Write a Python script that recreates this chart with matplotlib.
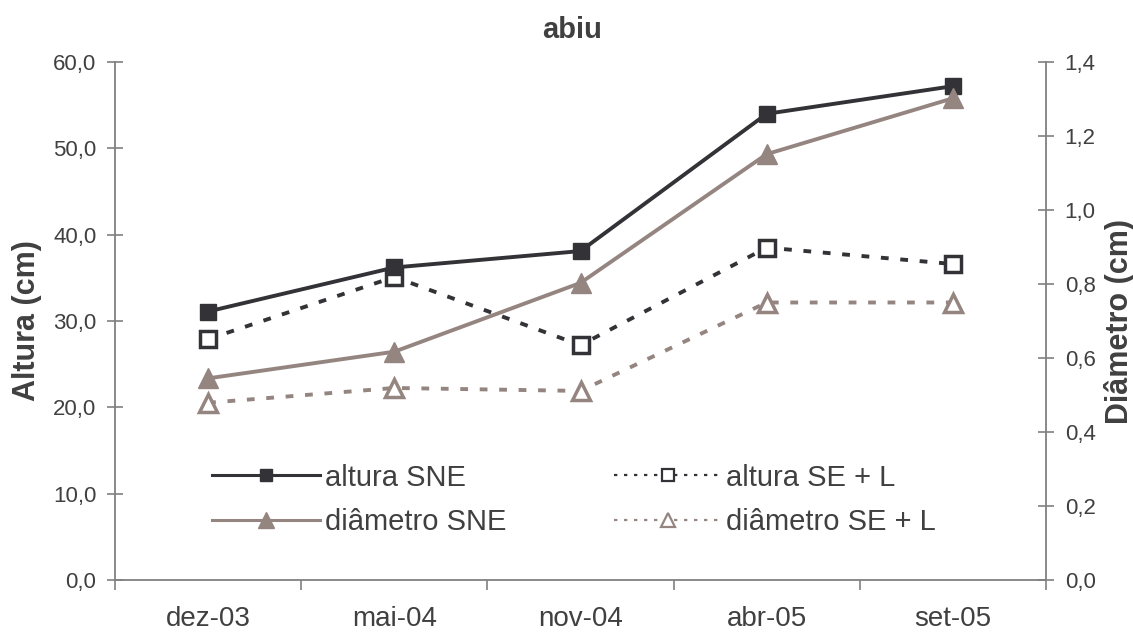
import matplotlib
matplotlib.use("Agg")
import matplotlib.pyplot as plt
from matplotlib.lines import Line2D
from matplotlib.ticker import FuncFormatter, MultipleLocator, FixedLocator

plt.rcParams['font.family'] = ['Liberation Sans', 'DejaVu Sans']

# Data
datas = ["dez-03", "mai-04", "nov-04", "abr-05", "set-05"]
altura_sne = [31.1, 36.2, 38.1, 54.0, 57.2]
altura_se_l = [27.9, 35.1, 27.2, 38.5, 36.6]
diametro_sne = [0.545, 0.617, 0.803, 1.151, 1.302]
diametro_se_l = [0.479, 0.519, 0.511, 0.750, 0.750]

DARK = "#333337"
BROWN = "#958580"
AXIS = "#808080"
TEXT = "#404040"

fig = plt.figure(figsize=(11.33, 6.36), dpi=100)
ax = fig.add_axes([115 / 1133, 1 - 580 / 636, (1046 - 115) / 1133, (580 - 62) / 636])
ax2 = ax.twinx()

x = list(range(len(datas)))

ax.plot(x, altura_sne, color=DARK, lw=2.8, marker="s", ms=12,
        mfc=DARK, mec=DARK, zorder=3)
ax.plot(x, altura_se_l, color=DARK, lw=2.8, ls=(0, (2.0, 3.0)), marker="s", ms=11,
        mfc="white", mec=DARK, mew=2.5, zorder=2)
ax2.plot(x, diametro_sne, color=BROWN, lw=2.8, marker="^", ms=14,
         mfc=BROWN, mec=BROWN, zorder=3)
ax2.plot(x, diametro_se_l, color=BROWN, lw=2.8, ls=(0, (2.0, 3.0)), marker="^", ms=13,
         mfc="white", mec=BROWN, mew=2.5, zorder=2)

# Axis ranges
ax.set_xlim(-0.5, len(datas) - 0.5)
ax.set_ylim(0, 60)
ax2.set_ylim(0, 1.4)

ax.yaxis.set_major_locator(MultipleLocator(10))
ax2.yaxis.set_major_locator(MultipleLocator(0.2))
ax.yaxis.set_major_formatter(FuncFormatter(lambda v, p: f"{v:.1f}".replace(".", ",")))
ax2.yaxis.set_major_formatter(FuncFormatter(lambda v, p: f"{v:.1f}".replace(".", ",")))

ax.set_xticks(x)
ax.set_xticklabels(datas)
ax.xaxis.set_minor_locator(FixedLocator([i - 0.5 for i in range(len(datas) + 1)]))
ax.tick_params(axis="x", which="major", length=0, pad=19, labelsize=20, labelcolor=TEXT)
ax.tick_params(axis="x", which="minor", length=7, width=1.2, color=AXIS, direction="out")
ax.tick_params(axis="y", length=11, width=1.2, color=AXIS, direction="inout",
               pad=8, labelsize=16, labelcolor=TEXT)
ax2.tick_params(axis="y", length=11, width=1.2, color=AXIS, direction="inout",
                pad=8, labelsize=16, labelcolor=TEXT)

for a in (ax, ax2):
    a.spines["top"].set_visible(False)
    for s in ("left", "right", "bottom"):
        a.spines[s].set_color(AXIS)
        a.spines[s].set_linewidth(1.3)
ax2.spines["left"].set_visible(False)
ax2.spines["bottom"].set_visible(False)
ax.spines["right"].set_visible(False)

ax.set_ylabel("Altura (cm)", fontsize=22, fontweight="bold", color=TEXT, labelpad=8)
ax2.set_ylabel("Diâmetro (cm)", fontsize=22, fontweight="bold", color=TEXT,
               rotation=90, labelpad=6)

fig.text(572 / 1133, 1 - 30 / 636, "abiu", ha="center", va="center",
         fontsize=21, fontweight="bold", color=TEXT)

# Legend (two columns)
handles = [
    Line2D([], [], color=DARK, lw=2.2, marker="s", ms=9, mfc=DARK, mec=DARK),
    Line2D([], [], color=BROWN, lw=2.2, marker="^", ms=11, mfc=BROWN, mec=BROWN),
    Line2D([], [], color=DARK, lw=1.6, ls=(0, (1.5, 3)), marker="s", ms=8,
           mfc="white", mec=DARK, mew=1.6),
    Line2D([], [], color=BROWN, lw=1.6, ls=(0, (1.5, 3)), marker="^", ms=10,
           mfc="white", mec=BROWN, mew=1.6),
]
labels = ["altura SNE", "diâmetro SNE", "altura SE + L", "diâmetro SE + L"]
leg = ax2.legend(handles, labels, ncol=2, frameon=False, fontsize=21,
                 loc="upper left", bbox_to_anchor=((212 - 115) / 931 - 0.012, 1 - (452 - 62) / 518),
                 handlelength=3.7, handletextpad=0.15, columnspacing=3.7,
                 labelspacing=0.55, borderaxespad=0)
for t in leg.get_texts():
    t.set_color(TEXT)

fig.savefig("out.png", dpi=100)
